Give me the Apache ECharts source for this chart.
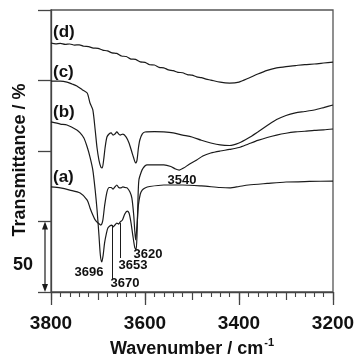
<!DOCTYPE html>
<html>
<head>
<meta charset="utf-8">
<script src="https://cdn.jsdelivr.net/npm/echarts@6/dist/echarts.min.js"></script>
<style>
  html, body { margin: 0; padding: 0; background: #fff; }
  #chart { width: 357px; height: 354px; }
</style>
</head>
<body>
<div id="chart"></div>
<script>
// spectra, offset transmittance (%), wavenumber in cm-1
const waveA = [3800, 3780, 3760, 3738, 3723, 3717, 3711, 3706, 3700, 3694, 3690, 3686, 3681, 3676, 3672, 3668, 3664, 3660, 3656, 3652, 3647, 3642, 3638, 3632, 3628, 3624, 3620, 3617, 3614, 3610, 3606, 3600, 3590, 3560, 3520, 3480, 3440, 3420, 3400, 3380, 3340, 3300, 3250, 3200];
const specA = [74.5, 73.8, 72.3, 70.2, 65.2, 59.6, 54.6, 51.1, 48.9, 47.5, 50.4, 61.0, 70.9, 74.1, 74.1, 73.0, 74.5, 75.9, 74.1, 73.8, 74.5, 74.1, 73.8, 70.9, 66.7, 54.6, 36.9, 47.5, 61.7, 69.5, 72.3, 73.8, 74.8, 75.9, 75.9, 75.2, 74.1, 73.8, 74.8, 75.9, 77.0, 78.0, 78.4, 78.7];

const waveB = [3800, 3780, 3766, 3745, 3738, 3730, 3723, 3717, 3711, 3706, 3702, 3698, 3695, 3692, 3689, 3686, 3682, 3679, 3675, 3671, 3668, 3664, 3660, 3656, 3653, 3648, 3643, 3638, 3634, 3630, 3626, 3622, 3619, 3617, 3615, 3613, 3608, 3604, 3596, 3580, 3560, 3545, 3535, 3527, 3518, 3505, 3490, 3477, 3460, 3440, 3420, 3400, 3380, 3360, 3340, 3320, 3300, 3280, 3260, 3240, 3220, 3200];
const specB = [120.6, 119.1, 118.4, 114.9, 112.8, 109.2, 102.8, 95.7, 86.5, 72.3, 58.2, 40.4, 26.2, 21.3, 26.2, 34.8, 41.8, 45.4, 46.8, 47.5, 46.1, 47.5, 48.9, 48.2, 49.6, 51.1, 55.3, 57.4, 56.0, 49.6, 40.4, 31.9, 29.8, 40.4, 65.2, 79.4, 85.1, 87.9, 90.1, 90.1, 90.1, 89.0, 87.2, 86.5, 87.9, 90.8, 93.6, 96.5, 98.6, 100.0, 101.1, 102.5, 105.0, 107.5, 109.6, 111.3, 112.6, 113.5, 114.0, 114.6, 115.0, 115.6];

const waveC = [3800, 3780, 3766, 3755, 3745, 3733, 3723, 3717, 3711, 3706, 3702, 3698, 3694, 3691, 3688, 3685, 3681, 3676, 3672, 3668, 3664, 3660, 3656, 3653, 3647, 3640, 3634, 3628, 3624, 3620, 3617, 3614, 3611, 3606, 3600, 3580, 3560, 3540, 3520, 3500, 3480, 3460, 3440, 3420, 3400, 3380, 3360, 3340, 3320, 3300, 3280, 3260, 3240, 3220, 3200];
const specC = [149.6, 149.6, 148.9, 147.5, 146.1, 143.3, 141.1, 134.0, 129.1, 114.9, 102.1, 93.6, 88.7, 88.0, 93.6, 102.1, 109.9, 112.2, 112.8, 111.3, 112.0, 113.5, 112.0, 111.3, 112.0, 109.9, 105.7, 99.3, 95.0, 91.5, 93.6, 102.1, 107.8, 112.0, 113.5, 113.8, 113.5, 112.8, 111.3, 109.9, 107.6, 105.7, 104.3, 103.9, 105.7, 109.2, 113.5, 118.0, 122.3, 125.2, 127.0, 128.0, 129.1, 130.8, 132.6];

const waveD = [3800, 3790, 3780, 3770, 3760, 3750, 3740, 3730, 3720, 3710, 3700, 3690, 3680, 3670, 3660, 3650, 3640, 3630, 3620, 3610, 3600, 3590, 3580, 3570, 3560, 3550, 3540, 3530, 3520, 3510, 3500, 3490, 3480, 3470, 3460, 3440, 3420, 3400, 3380, 3360, 3340, 3320, 3300, 3280, 3260, 3240, 3220, 3200];
const specD = [176.6, 176.0, 176.3, 175.6, 175.9, 175.1, 175.3, 174.3, 174.0, 173.0, 172.8, 171.5, 171.0, 169.6, 169.2, 167.4, 167.0, 165.2, 165.0, 163.2, 162.9, 161.2, 161.0, 159.3, 159.0, 157.5, 157.0, 155.8, 155.5, 154.2, 153.8, 152.6, 152.0, 151.0, 150.3, 148.8, 148.2, 148.9, 151.6, 154.6, 157.2, 158.9, 159.9, 160.6, 161.3, 161.7, 162.4, 163.1];

const xTickLabels = [3800, 3600, 3400, 3200];
const curveTags = ['(a)', '(b)', '(c)', '(d)'];
const peakTags = ['3696', '3670', '3653', '3620', '3540'];
const markedPeaks = [3670, 3653];   // drawn with a pointer line onto (b)
const markTops = [47.5, 48.9];
const markBottoms = [9.2, 24.1];
const scaleBar = 50;

function zip(xs, ys) {
  return xs.map(function (x, i) { return [x, ys[i]]; });
}

const ink = '#1b1b1b';
const font = '"Liberation Sans", Arial, sans-serif';

function spectrum(name, xs, ys, extra) {
  return Object.assign({
    name: name,
    type: 'line',
    data: zip(xs, ys),
    showSymbol: false,
    smooth: 0.25,
    animation: false,
    lineStyle: { color: ink, width: 1.2 }
  }, extra || {});
}

const chart = echarts.init(document.getElementById('chart'));

const option = {
  animation: false,
  grid: {
    left: 51, right: 24, top: 10, bottom: 62,
    containLabel: false, outerBoundsMode: 'none',
    show: true, borderColor: '#555', borderWidth: 1.3
  },
  xAxis: [
    {
      type: 'value', min: 3200, max: 3800, inverse: true, interval: 100,
      axisLine: { lineStyle: { color: '#444', width: 1.3 } },
      axisTick: { length: 8, lineStyle: { color: '#444', width: 1.2 } },
      minorTick: { show: true, splitNumber: 5, length: 5, lineStyle: { color: '#444', width: 1.1 } },
      splitLine: { show: false },
      axisLabel: {
        margin: 22, color: '#111', fontSize: 19, fontWeight: 'bold', fontFamily: font,
        formatter: function (v) { return xTickLabels.indexOf(v) >= 0 ? String(v) : ''; }
      },
      name: '{t|Wavenumber / cm}{s|-1}',
      nameLocation: 'middle', nameGap: 44,
      nameTextStyle: {
        rich: {
          t: { fontSize: 18, fontWeight: 'bold', fontFamily: font, color: '#111' },
          s: { fontSize: 11, fontWeight: 'bold', fontFamily: font, color: '#111', verticalAlign: 'top', padding: [0, 0, 12, 1] }
        }
      }
    },
    {
      type: 'value', min: 3200, max: 3800, inverse: true, interval: 200,
      position: 'bottom',
      axisLine: { show: false },
      axisTick: { length: 13, lineStyle: { color: '#444', width: 1.3 } },
      axisLabel: { show: false },
      splitLine: { show: false }
    }
  ],
  yAxis: {
    type: 'value', min: 0, max: 200, interval: 50,
    axisLine: { show: true, lineStyle: { color: '#444', width: 1.3 } },
    axisTick: { show: true, length: 13, lineStyle: { color: '#444', width: 1.3 } },
    axisLabel: { show: false },
    splitLine: { show: false }
  },
  series: [
    spectrum('a', waveA, specA),
    spectrum('b', waveB, specB, {
      markLine: {
        silent: true, symbol: 'none', animation: false,
        label: { show: false },
        lineStyle: { color: ink, width: 1, type: 'solid' },
        data: markedPeaks.map(function (w, i) {
          return [{ coord: [w, markTops[i]] }, { coord: [w, markBottoms[i]] }];
        })
      }
    }),
    spectrum('c', waveC, specC),
    spectrum('d', waveD, specD)
  ]
};

chart.setOption(option);

// text annotations, the y-axis title and the 50 % scale bar
const tagStyle = { fontSize: 17, fontWeight: 'bold', fontFamily: font, fill: '#111' };
const peakStyle = { fontSize: 13, fontWeight: 'bold', fontFamily: font, fill: '#111' };
const tagPos = [[53, 177], [53, 112], [53, 72], [53, 32]];
const peakPos = [[89, 272], [125, 283], [133, 265], [148, 254], [182, 180]];

const barX = 45;
const barTop = chart.convertToPixel({ yAxisIndex: 0 }, scaleBar);
const barBottom = chart.convertToPixel({ yAxisIndex: 0 }, 0);

const graphics = [];
graphics.push({
  type: 'text', x: 20, y: 160, rotation: Math.PI / 2,
  style: { text: 'Transmittance / %', align: 'center', verticalAlign: 'middle', fontSize: 18, fontWeight: 'bold', fontFamily: font, fill: '#111' }
});
curveTags.forEach(function (t, i) {
  graphics.push({
    type: 'text', x: tagPos[i][0], y: tagPos[i][1],
    style: Object.assign({ text: t, align: 'left', verticalAlign: 'middle' }, tagStyle)
  });
});
peakTags.forEach(function (t, i) {
  graphics.push({
    type: 'text', x: peakPos[i][0], y: peakPos[i][1],
    style: Object.assign({ text: t, align: 'center', verticalAlign: 'middle' }, peakStyle)
  });
});
graphics.push({
  type: 'line',
  shape: { x1: barX, y1: barTop + 6, x2: barX, y2: barBottom - 6 },
  style: { stroke: ink, lineWidth: 1.2 }
});
graphics.push({
  type: 'polygon',
  shape: { points: [[barX, barTop], [barX - 3, barTop + 8], [barX + 3, barTop + 8]] },
  style: { fill: ink }
});
graphics.push({
  type: 'polygon',
  shape: { points: [[barX, barBottom], [barX - 3, barBottom - 8], [barX + 3, barBottom - 8]] },
  style: { fill: ink }
});
graphics.push({
  type: 'text', x: 23, y: (barTop + barBottom) / 2 + 8,
  style: { text: String(scaleBar), align: 'center', verticalAlign: 'middle', fontSize: 18, fontWeight: 'bold', fontFamily: font, fill: '#111' }
});

chart.setOption({ graphic: graphics });
</script>
</body>
</html>
